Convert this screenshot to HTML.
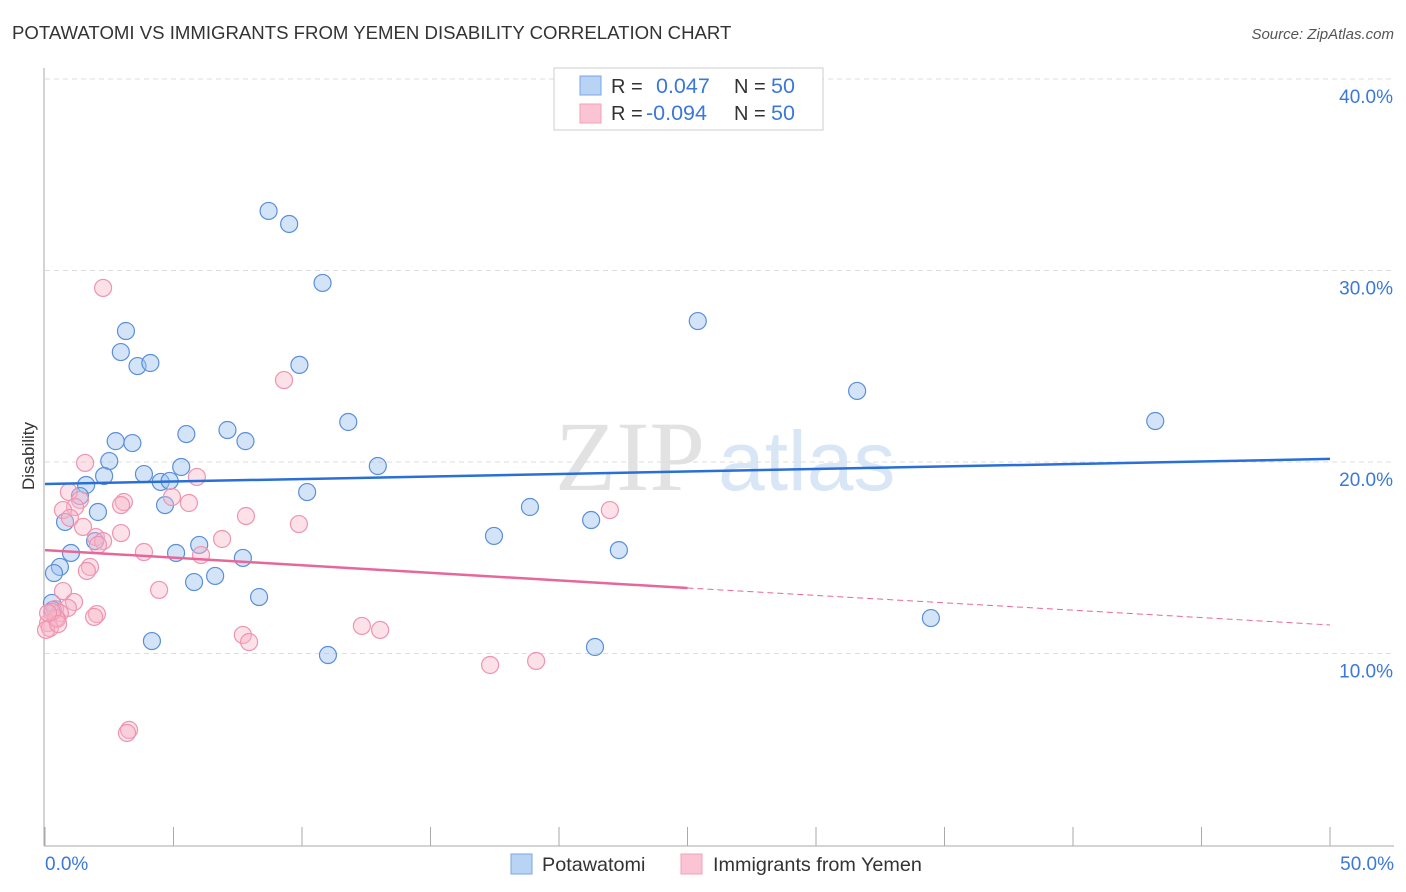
<!DOCTYPE html>
<html><head><meta charset="utf-8"><style>
body{margin:0;background:#fff;font-family:"Liberation Sans",sans-serif;}
svg{display:block}
</style></head><body>
<svg id="chart" width="1406" height="892" xmlns="http://www.w3.org/2000/svg">
<text x="12" y="39" font-size="18.6" fill="#333">POTAWATOMI VS IMMIGRANTS FROM YEMEN DISABILITY CORRELATION CHART</text>
<text x="1394" y="39" font-size="15" fill="#555" font-style="italic" text-anchor="end">Source: ZipAtlas.com</text>
<text x="555" y="490" font-size="100" fill="#e2e2e2" font-family="Liberation Serif,serif">ZIP</text>
<text x="718" y="490" font-size="84" fill="#d8e6f6">atlas</text>
<g id="grid"></g><g id="axes"></g><g id="pts"></g><g id="trend"></g>
<text x="34" y="456" font-size="17" fill="#333" text-anchor="middle" transform="rotate(-90 34 456)">Disability</text>
<g>
<rect x="554" y="68" width="269" height="62" fill="#fff" stroke="#ccc"/>
<rect x="580" y="76" width="21" height="19" fill="#b9d3f5" stroke="#7aa6e3"/>
<rect x="580" y="104" width="21" height="19" fill="#fbc4d4" stroke="#f0a0b8"/>
<text x="611" y="93" font-size="20" fill="#333">R =</text><text x="656" y="93" font-size="21.5" fill="#3b78d8">0.047</text>
<text x="734" y="93" font-size="20" fill="#333">N =</text><text x="771" y="93" font-size="21.5" fill="#3b78d8">50</text>
<text x="611" y="120" font-size="20" fill="#333">R =</text><text x="646" y="120" font-size="21.5" fill="#3b78d8">-0.094</text>
<text x="734" y="120" font-size="20" fill="#333">N =</text><text x="771" y="120" font-size="21.5" fill="#3b78d8">50</text>
</g>
<g>
<rect x="511" y="854" width="21" height="20" fill="#b9d3f5" stroke="#7aa6e3"/>
<text x="542" y="871" font-size="19.8" fill="#333">Potawatomi</text>
<rect x="681" y="854" width="21" height="20" fill="#fbc4d4" stroke="#f0a0b8"/>
<text x="713" y="871" font-size="19.8" fill="#333">Immigrants from Yemen</text>
</g>
</svg>
<script>
const xTicks=[0,5,10,15,20,25,30,35,40,45,50];
const yTicks=[10,20,30,40];
const blueX=[8.7,9.5,10.8,25.4,3.15,2.95,3.6,4.1,9.9,31.6,11.8,43.2,7.1,5.5,2.75,3.4,7.8,2.5,5.3,12.95,3.85,2.3,4.5,4.85,1.6,10.2,1.36,4.67,18.87,2.06,21.25,0.78,1.95,17.47,6.0,5.1,1.01,22.33,7.7,0.58,0.35,6.62,5.8,8.33,0.27,34.47,4.16,21.4,11.01,0.31];
const blueY=[33.11,32.43,29.35,27.36,26.84,25.74,25.01,25.17,25.07,23.71,22.09,22.14,21.67,21.46,21.09,20.99,21.09,20.05,19.74,19.79,19.37,19.27,18.96,19.01,18.80,18.43,18.22,17.75,17.65,17.39,16.97,16.87,15.87,16.14,15.67,15.25,15.25,15.40,14.99,14.52,14.20,14.05,13.73,12.95,12.64,11.85,10.65,10.34,9.92,12.27];
const pinkX=[2.26,9.3,1.56,5.91,0.93,4.94,1.36,5.6,3.07,2.96,1.17,0.7,21.98,7.82,0.97,9.88,1.48,2.96,6.89,1.98,2.26,2.06,3.85,6.07,1.75,1.63,4.44,0.7,1.13,0.89,0.39,0.58,0.47,2.02,1.91,0.12,0.19,0.04,12.33,13.04,7.7,7.94,19.11,17.32,3.27,3.19,0.43,0.27,0.51,0.12];
const pinkY=[29.09,24.28,19.95,19.22,18.43,18.17,18.02,17.86,17.91,17.75,17.65,17.49,17.49,17.18,17.08,16.76,16.61,16.29,15.98,16.08,15.87,15.67,15.30,15.14,14.52,14.31,13.32,13.26,12.69,12.38,12.32,12.11,11.80,12.06,11.91,11.59,11.33,11.23,11.44,11.23,10.97,10.60,9.61,9.40,6.01,5.85,11.85,12.17,11.54,12.11];
const blueTrend=[18.85,20.16];
const pinkTrend=[15.40,13.42,11.49];
const X0=45,X1=1330,Y0=845,YP=19.15;
const sx=v=>X0+(X1-X0)*v/50, sy=v=>Y0-YP*v;
const NS="http://www.w3.org/2000/svg";
function mk(p,t,a){const e=document.createElementNS(NS,t);for(const k in a)e.setAttribute(k,a[k]);p.appendChild(e);return e;}
const grid=document.getElementById('grid'),axes=document.getElementById('axes');
yTicks.forEach(t=>{
 const l=mk(grid,'line',{x1:45,x2:1394,y1:sy(t),y2:sy(t),stroke:'#ddd','stroke-dasharray':'5,4'});
 
 
 const tx=mk(axes,'text',{x:1393,y:sy(t)+24,'font-size':19,fill:'#3b78d8','text-anchor':'end'});
 tx.textContent=t.toFixed(1)+'%';
 
 
});
const ax=mk(axes,'line',{x1:44,x2:44,y1:68,y2:846,stroke:'#aaa'});


const bx=mk(axes,'line',{x1:44,x2:1394,y1:846,y2:846,stroke:'#aaa'});


xTicks.forEach(t=>{
 const l=mk(axes,'line',{x1:sx(t),x2:sx(t),y1:827,y2:846,stroke:'#aaa'});
 
 
});
[[0,'start',45],[50,'end',1394]].forEach(([v,anc,x])=>{
 const tx=mk(axes,'text',{x:x,y:870,'font-size':19,fill:'#3b78d8','text-anchor':anc});
 tx.textContent=v.toFixed(1)+'%';
 
 
});
const pts=document.getElementById('pts');
blueX.forEach((v,i)=>{
 const c=mk(pts,'circle',{cx:sx(v),cy:sy(blueY[i]),r:8.5,fill:'rgba(160,196,240,0.45)',stroke:'#5b8fd8','stroke-width':1.2});
 
 
});
pinkX.forEach((v,i)=>{
 const c=mk(pts,'circle',{cx:sx(v),cy:sy(pinkY[i]),r:8.5,fill:'rgba(248,180,200,0.4)',stroke:'#ee94b0','stroke-width':1.2});
 
 
});
const tr=document.getElementById('trend');
const bl=mk(tr,'line',{x1:sx(0),y1:sy(blueTrend[0]),x2:sx(50),y2:sy(blueTrend[1]),stroke:'#2a6fd6','stroke-width':2.5});


const pl=mk(tr,'line',{x1:sx(0),y1:sy(pinkTrend[0]),x2:sx(25),y2:sy(pinkTrend[1]),stroke:'#e8679a','stroke-width':2.5});


const pd=mk(tr,'line',{x1:sx(25),y1:sy(pinkTrend[1]),x2:sx(50),y2:sy(pinkTrend[2]),stroke:'#e8679a','stroke-width':1,'stroke-dasharray':'6,4'});


</script>
</body></html>
